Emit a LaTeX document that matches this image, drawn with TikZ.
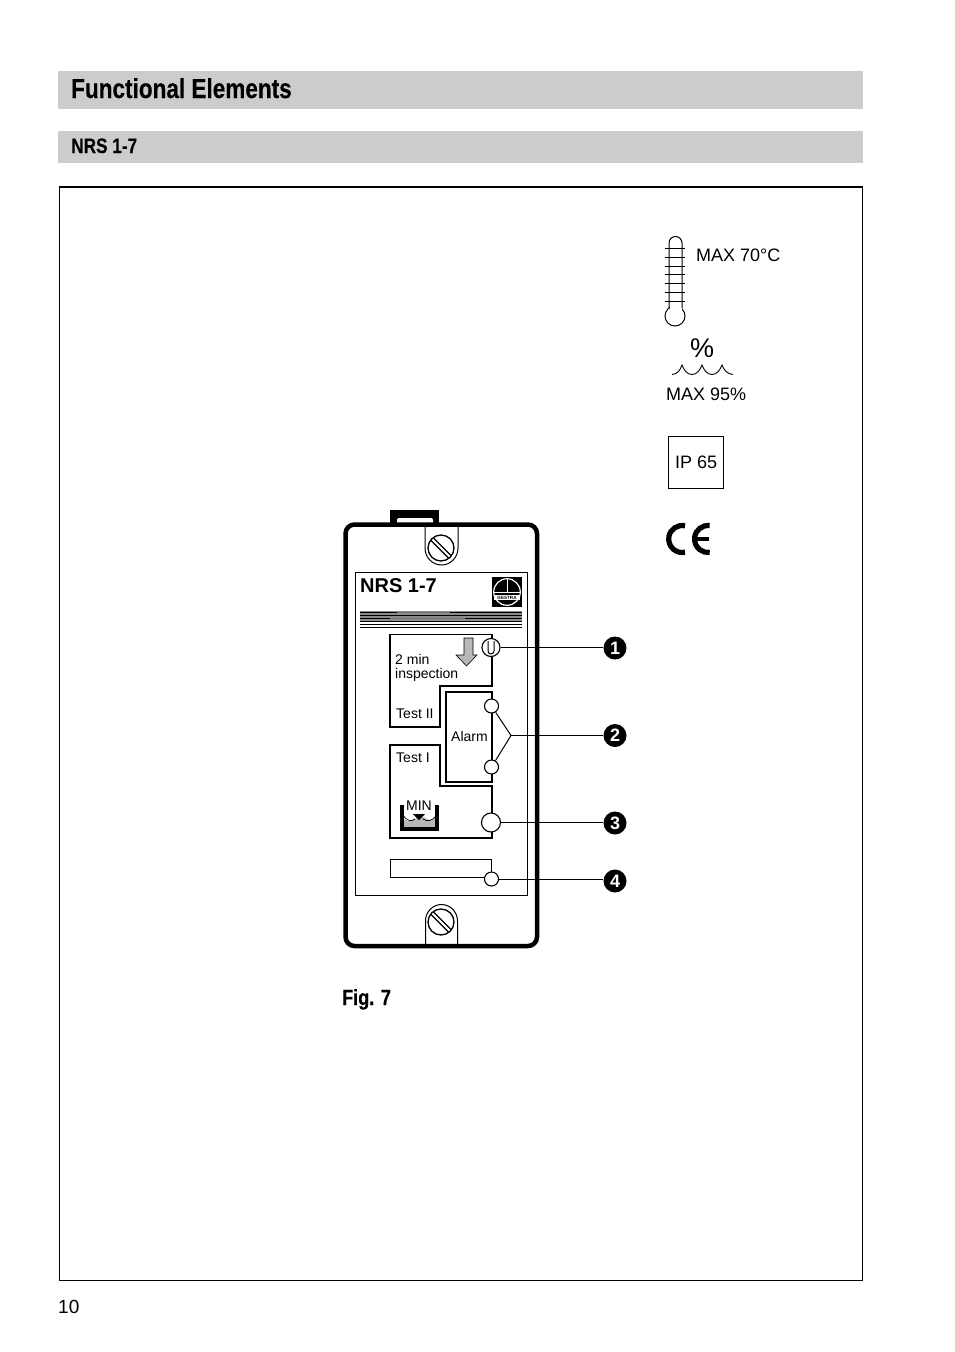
\documentclass[tikz,border=0pt]{standalone}
\usepackage{fontspec}
\setmainfont{Liberation Sans}
\newfontfamily\condbold[FakeStretch=0.82,FakeBold=0.25]{Liberation Sans Bold}
\newcommand{\fs}[1]{\fontsize{#1}{#1}\selectfont}
\usetikzlibrary{calc}
\definecolor{barGray}{gray}{0.8}
\definecolor{fillGray}{gray}{0.72}
\tikzset{
  x=1pt,y=-1pt,
  bar/.style={fill=barGray,draw=none},
  heading/.style={anchor=base west,inner sep=0,text=black},
  device/.style={draw=black,line width=1.5pt,line join=miter},
  label/.style={anchor=base,inner sep=0,font=\fs{14}},
  spec/.style={anchor=base west,inner sep=0,font=\fs{18},text=black},
  port/.style={circle,draw=black,line width=1.1pt,fill=white,inner sep=0},
  marker/.style={circle,fill=black,text=white,inner sep=0,minimum size=23pt,font=\fs{18}\bfseries},
  leader/.style={draw=black,line width=1pt},
}
\begin{document}
\begin{tikzpicture}
\useasboundingbox (0,0) rectangle (954,1352);
\fill[white] (0,0) rectangle (954,1352);
% headers
\fill[bar] (58,71) rectangle (863,109);
\fill[bar] (58,131) rectangle (863,163);
\node[heading] (title) at (71,98) {\condbold\fs{27.5}Functional Elements};
\node[heading] (sub) at (71,153) {\condbold\fs{21}NRS 1-7};
% frame
\draw[line width=0.9pt] (59,187) rectangle (862.5,1280.5);
\draw[line width=2pt] (58.5,187) -- (863,187);
\node[heading] (page) at (58,1313) {\fs{19}10};
\node[heading] (fig) at (342,1005) {\condbold\fs{22}Fig. 7};
% device tab
\fill[black] (390,524) rectangle (439,510);
\fill[white,rounded corners=2pt] (397,526) -- (397,518) -- (433,518) -- (433,526) -- cycle;
% device body
\draw[draw=black,line width=4.5pt,fill=white,rounded corners=9pt] (345.5,524.5) rectangle (537,946);
% screw slots
\draw[line width=1pt] (425,526.5) -- (425,548) arc[start angle=180,end angle=360,x radius=16.5,y radius=-17] -- (458,526.5);
\draw[line width=1pt] (425.5,943.8) -- (425.5,921) arc[start angle=180,end angle=0,x radius=16,y radius=-16.5] -- (457.5,943.8);
\foreach \n/\cy in {screwA/548,screwB/922}{
  \node[circle,draw=black,line width=1.3pt,minimum size=26pt,inner sep=0] (\n) at (441,\cy) {};
  \begin{scope}[shift={(441,\cy)}]
    \clip (0,0) circle (12.5);
    \draw[line width=1.3pt] (-13,-10.5) -- (10.5,13);
    \draw[line width=1.3pt] (-10.5,-13) -- (13,10.5);
  \end{scope}
}
% inner panel
\draw[line width=1pt] (355,572.5) rectangle (527,895);
\node[heading] (nrs) at (360,592) {\fs{20}\bfseries NRS 1-7};
% logo
\fill[black] (492,577) rectangle (522,607);
\draw[white,line width=1.2pt] (507,592) circle (13.3);
\fill[white] (494.2,595) rectangle (519.8,600);
\draw[white,line width=0.8pt] (507,578.5) -- (507,592.5);
\draw[white,line width=0.8pt] (493.5,592.5) -- (520.5,592.5);
\node[inner sep=0,text=black] (gestra) at (507,597.6) {\fs{4.6}\bfseries GESTRA};
% stripes
\fill[black!45] (360,611) rectangle (522,621);
\foreach \yy in {612,615,618,621,624,627}{\draw[line width=0.9pt] (360,\yy) -- (522,\yy);}
\draw[black!55,line width=0.9pt] (397,612) -- (450,612);
\draw[black!55,line width=0.9pt] (390,618) -- (465,618);
% panels
\draw[device] (390,634.5) -- (492,634.5) -- (492,686) -- (440,686) -- (440,727) -- (390,727) -- cycle;
\draw[line width=1.2pt] (446,692) -- (492,692) -- (492,782) -- (446,782) -- cycle;
\draw[device] (390,745) -- (440,745) -- (440,786) -- (492,786) -- (492,838) -- (390,838) -- cycle;
\draw[line width=1pt] (491,877) -- (390,877) -- (390,859) -- (491,859) -- (491,872);
% gray arrow
\draw[draw=black,line width=0.6pt,fill=fillGray] (464,638) -- (473,638) -- (473,655) -- (477,655) -- (466.5,666) -- (456,655) -- (464,655) -- cycle;
% labels
\node[label,anchor=base west] (l2min) at (395,664) {2 min};
\node[label,anchor=base west] (linsp) at (395,678) {inspection};
\node[label,anchor=base west] (ltest2) at (396,718) {Test II};
\node[label,anchor=base west] (lalarm) at (451,741) {Alarm};
\node[label,anchor=base west] (ltest1) at (396,762) {Test I};
% MIN tank
\fill[fillGray] (403,818) .. controls (407,822) and (411,822) .. (415,819) .. controls (419,816) and (423,816) .. (427,819) .. controls (430,821) and (433,820) .. (436,817) -- (436,828) -- (403,828) -- cycle;
\draw[line width=0.7pt] (403,815) .. controls (407,821) and (411,822) .. (415,819);
\draw[line width=0.7pt] (423,819) .. controls (427,822) and (432,821) .. (436,816);
\draw[line width=3.6pt,line join=miter] (401.8,805) -- (401.8,829) -- (437.2,829) -- (437.2,805);
\fill[black] (413,814) -- (425,814) -- (419,820) -- cycle;
\node[label,anchor=base] (lmin) at (419,810) {MIN};
% ports
\node[port,minimum size=18pt] (p1) at (491,647.5) {};
\draw[line width=1pt] (488,641) -- (488,651) arc[start angle=180,end angle=360,x radius=3,y radius=-3] -- (494,641);
\node[port,minimum size=14pt] (p2a) at (491.5,706) {};
\node[port,minimum size=14pt] (p2b) at (491.5,767) {};
\node[port,minimum size=19pt] (p3) at (491,822.5) {};
\node[port,minimum size=14pt] (p4) at (491.5,879) {};
% markers
\node[marker] (m1) at (615,648) {1};
\node[marker] (m2) at (615,735.5) {2};
\node[marker] (m3) at (615,823) {3};
\node[marker] (m4) at (615,881) {4};
\coordinate (fork) at (511,735.5);
\draw[leader] (p1) -- (m1.west |- p1);
\draw[leader] (fork) -- (m2);
\draw[leader] (p2a) -- (fork) -- (p2b);
\draw[leader] (p3) -- (m3.west |- p3);
\draw[leader] (p4) -- (m4.west |- p4);
% thermometer
\draw[line width=1pt] (675,316) circle (10);
\fill[white] (669.5,300) rectangle (681.5,310);
\draw[line width=1pt] (669,308) -- (669,243) arc[start angle=180,end angle=0,x radius=6.5,y radius=-6.5] -- (682,308);
\foreach \yy in {248,257,266,274,283,292,301}{\draw[line width=0.9pt] (665,\yy) -- (685,\yy);}
\node[spec] (t70) at (696,261) {MAX 70°C};
% humidity
\node[inner sep=0] (pct) at (702,348) {\fs{27}\%};
\draw[line width=0.9pt] (672,374.5) .. controls (678,374) and (680,370) .. (682,365) .. controls (684,370) and (687,374.5) .. (692,374.5) .. controls (697,374.5) and (700,370) .. (702,365) .. controls (704,370) and (707,374.5) .. (712,374.5) .. controls (717,374.5) and (720,370) .. (722,365) .. controls (724,370) and (727,374) .. (733,374.5);
\node[spec] (h95) at (666,400) {MAX 95\%};
% IP
\node[draw=black,line width=0.9pt,minimum width=55.5pt,minimum height=52pt,inner sep=0] (ipbox) at (696,462) {};
\node[spec] (ip) at (675,468) {IP 65};
% CE
\draw[line width=5.2pt] (685,525.8) arc[start angle=78,end angle=282,x radius=13.5,y radius=-13.5];
\draw[line width=5.2pt] (709.7,525.6) arc[start angle=83,end angle=277,x radius=13.5,y radius=-13.5];
\draw[line width=3.4pt] (695,539) -- (709,539);
\end{tikzpicture}
\end{document}
